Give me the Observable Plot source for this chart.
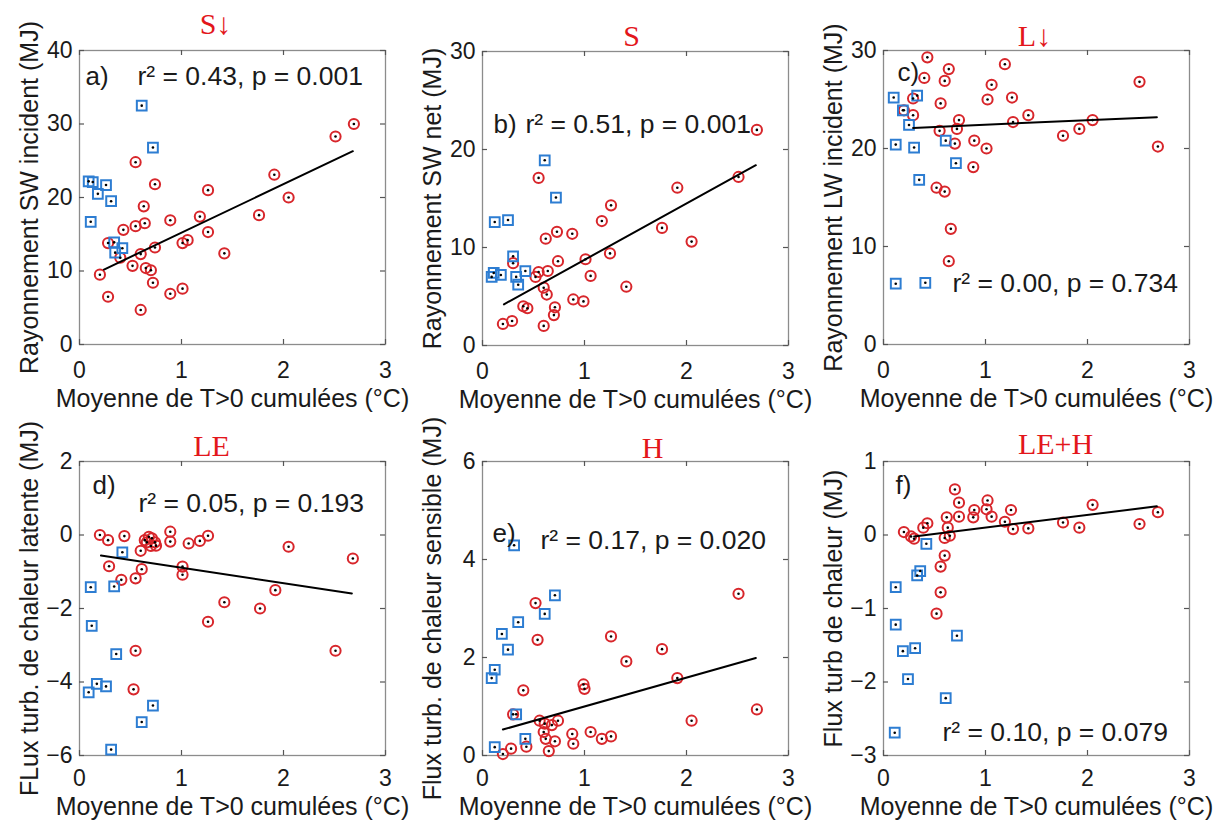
<!DOCTYPE html>
<html><head><meta charset="utf-8">
<script src="https://cdn.jsdelivr.net/npm/d3@7"></script>
<script src="https://cdn.jsdelivr.net/npm/@observablehq/plot@0.6"></script>
<style>
html,body{margin:0;padding:0;background:#fff;overflow:hidden;}
#root{position:relative;width:1213px;height:824px;overflow:hidden;}
.panel{position:absolute;}
</style></head><body><div id="root"></div>
<script>
// ---------- data ----------
const xTicks = [0, 1, 2, 3];
const xLabel = "Moyenne de T>0 cumulées (°C)";
const titles = ["S↓", "S", "L↓", "LE", "H", "LE+H"];
const letters = ["a)", "b)", "c)", "d)", "e)", "f)"];
const stats = ["r² = 0.43, p = 0.001", "r² = 0.51, p = 0.001", "r² = 0.00, p = 0.734",
               "r² = 0.05, p = 0.193", "r² = 0.17, p = 0.020", "r² = 0.10, p = 0.079"];
const yLabels = ["Rayonnement SW incident (MJ)", "Rayonnement SW net (MJ)", "Rayonnement LW incident (MJ)",
                 "FLux turb. de chaleur latente (MJ)", "Flux turb. de chaleur sensible (MJ)", "Flux turb de chaleur (MJ)"];
const yDomains = [[0, 40], [0, 30], [0, 30], [-6, 2], [0, 6], [-3, 1]];
const yTicks = [[0, 10, 20, 30, 40], [0, 10, 20, 30], [0, 10, 20, 30], [-6, -4, -2, 0, 2], [0, 2, 4, 6], [-3, -2, -1, 0, 1]];

const aRed = [[2.69,30.0],[2.51,28.3],[1.91,23.1],[2.05,20.0],[1.76,17.6],[1.26,21.0],[1.18,17.4],[1.26,15.3],[1.42,12.4],[1.01,13.8],[1.06,14.2],[0.89,16.9],[0.89,6.9],[1.01,7.6],[0.74,21.8],[0.55,24.8],[0.63,18.8],[0.64,16.5],[0.55,16.1],[0.43,15.6],[0.74,13.2],[0.60,12.3],[0.52,10.7],[0.65,10.4],[0.70,10.1],[0.72,8.4],[0.60,4.7],[0.28,13.8],[0.20,9.5],[0.28,6.5],[0.40,11.8]];
const aBlue = [[0.61,32.5],[0.72,26.8],[0.09,22.2],[0.13,22.1],[0.26,21.7],[0.18,20.5],[0.31,19.5],[0.11,16.7],[0.34,13.9],[0.35,12.5],[0.42,13.1]];
const aFit = [[0.24,10.2],[2.68,26.3]];

const bRed = [[2.69,22.0],[2.51,17.2],[1.91,16.1],[2.05,10.6],[1.76,12.0],[1.26,14.3],[1.17,12.7],[1.25,9.4],[1.41,6.0],[1.01,8.8],[1.06,7.1],[0.88,11.4],[0.89,4.7],[0.99,4.5],[0.73,11.6],[0.55,17.1],[0.62,10.9],[0.74,8.6],[0.64,7.6],[0.55,7.5],[0.52,7.0],[0.60,5.9],[0.63,5.2],[0.71,3.9],[0.70,3.1],[0.60,2.0],[0.40,4.0],[0.44,3.8],[0.30,8.4],[0.20,2.2],[0.29,2.5]];
const bBlue = [[0.61,18.9],[0.72,15.1],[0.12,12.6],[0.25,12.8],[0.30,9.1],[0.42,7.6],[0.11,7.4],[0.18,7.2],[0.09,7.0],[0.33,7.0],[0.35,6.2]];
const bFit = [[0.21,4.2],[2.68,18.4]];

const cRed = [[2.51,26.8],[2.69,20.2],[2.05,22.9],[1.92,22.0],[1.76,21.3],[1.42,23.4],[1.26,25.2],[1.27,22.7],[1.19,28.6],[1.06,26.5],[1.02,25.0],[1.01,20.0],[0.89,20.8],[0.88,18.1],[0.74,22.9],[0.72,22.0],[0.70,20.5],[0.64,28.1],[0.60,26.9],[0.56,24.6],[0.55,21.8],[0.43,29.3],[0.40,27.2],[0.52,16.0],[0.60,15.6],[0.66,11.8],[0.64,8.5],[0.29,25.1],[0.29,23.4],[0.20,23.9]];
const cBlue = [[0.10,25.2],[0.33,25.4],[0.19,23.9],[0.25,22.4],[0.12,20.4],[0.30,20.1],[0.61,20.8],[0.71,18.5],[0.35,16.8],[0.12,6.2],[0.41,6.3]];
const cFit = [[0.29,22.1],[2.68,23.2]];

const dRed = [[0.20,0.0],[0.28,-0.14],[0.44,-0.03],[0.29,-0.85],[0.41,-1.22],[0.55,-1.18],[0.60,-0.43],[0.61,-0.93],[0.64,-0.14],[0.68,-0.05],[0.71,-0.09],[0.74,-0.20],[0.75,-0.29],[0.89,0.09],[0.89,-0.18],[1.01,-0.86],[1.01,-1.08],[1.07,-0.23],[1.18,-0.16],[1.26,-0.02],[1.26,-2.36],[1.42,-1.83],[1.77,-2.0],[1.92,-1.5],[2.05,-0.32],[2.68,-0.64],[2.51,-3.15],[0.55,-3.15],[0.53,-4.2],[0.66,-0.2],[0.70,-0.3]];
const dBlue = [[0.11,-1.42],[0.12,-2.47],[0.34,-1.40],[0.42,-0.47],[0.36,-3.24],[0.09,-4.28],[0.17,-4.05],[0.26,-4.12],[0.72,-4.64],[0.61,-5.09],[0.31,-5.84]];
const dFit = [[0.21,-0.56],[2.67,-1.59]];

const eRed = [[2.51,3.30],[2.69,0.94],[2.05,0.71],[1.91,1.58],[1.76,2.17],[1.41,1.92],[1.26,2.43],[1.26,0.39],[1.17,0.34],[1.06,0.48],[0.99,1.45],[1.00,1.36],[0.88,0.44],[0.89,0.24],[0.74,0.71],[0.71,0.29],[0.65,0.09],[0.61,0.65],[0.60,0.48],[0.62,0.34],[0.56,0.71],[0.52,3.11],[0.54,2.36],[0.40,1.33],[0.43,0.18],[0.30,0.84],[0.28,0.14],[0.20,0.03],[0.68,0.62]];
const eBlue = [[0.31,4.29],[0.71,3.27],[0.61,2.89],[0.35,2.72],[0.19,2.48],[0.25,2.16],[0.12,1.75],[0.09,1.58],[0.33,0.84],[0.42,0.34],[0.12,0.17]];
const eFit = [[0.20,0.53],[2.68,1.99]];

const fRed = [[2.69,0.31],[2.51,0.15],[2.05,0.41],[1.92,0.10],[1.76,0.17],[1.42,0.09],[1.25,0.34],[1.27,0.08],[1.19,0.18],[1.06,0.25],[1.02,0.47],[1.01,0.35],[0.89,0.34],[0.88,0.24],[0.74,0.44],[0.74,0.25],[0.70,0.62],[0.62,0.24],[0.63,0.10],[0.65,-0.01],[0.60,-0.04],[0.60,-0.28],[0.56,-0.43],[0.56,-0.78],[0.52,-1.07],[0.43,0.16],[0.39,0.10],[0.20,0.04],[0.27,-0.02],[0.30,-0.05]];
const fBlue = [[0.42,-0.12],[0.36,-0.49],[0.33,-0.55],[0.12,-0.71],[0.12,-1.22],[0.19,-1.58],[0.31,-1.54],[0.24,-1.96],[0.72,-1.37],[0.61,-2.22],[0.11,-2.69]];
const fFit = [[0.30,-0.02],[2.68,0.39]];

const reds = [aRed, bRed, cRed, dRed, eRed, fRed];
const blues = [aBlue, bBlue, cBlue, dBlue, eBlue, fBlue];
const fits = [aFit, bFit, cFit, dFit, eFit, fFit];

// ---------- layout (positions / styles) ----------
const ML = 80, MT = 52, MR = 20, MB = 66, FW = 306, FH = 294, TK = 5;
const layout = [
  {fx: 79,  fy: 50,  tdx: -17, tdy: -17, lx: 6,  ly: 34, sx: 58, sy: 34,  xpad: 17, xlab: 45},
  {fx: 482, fy: 51,  tdx: -4,  tdy: -6,  lx: 11, ly: 81, sx: 43, sy: 81,  xpad: 17, xlab: 45},
  {fx: 883, fy: 50,  tdx: -2,  tdy: -5,  lx: 14, ly: 30, sx: 69, sy: 241, xpad: 17, xlab: 45},
  {fx: 79,  fy: 461, tdx: -21, tdy: -6,  lx: 13, ly: 32, sx: 59, sy: 50,  xpad: 14, xlab: 42},
  {fx: 482, fy: 461, tdx: 17,  tdy: -4,  lx: 10, ly: 80, sx: 58, sy: 87,  xpad: 14, xlab: 42},
  {fx: 883, fy: 461, tdx: 19,  tdy: -8,  lx: 12, ly: 32, sx: 59, sy: 279, xpad: 14, xlab: 42}
];
const RED = "#d8262b", BLUE = "#2d7dd2", GRID = "#8c8c8c", TICK = "#555";
const SANS = "'Liberation Sans', Arial, Helvetica, sans-serif";
const SERIF = "'Liberation Serif', 'Times New Roman', serif";
const fmt = d => (d < 0 ? "\u2212" + Math.abs(d) : String(d));

const root = document.getElementById("root");
const px = d => d[0], py = d => d[1];

for (let i = 0; i < 6; i++) {
  const L = layout[i];
  const yt = yTicks[i];
  const chart = Plot.plot({
    width: ML + FW + MR, height: MT + FH + MB,
    marginLeft: ML, marginTop: MT, marginRight: MR, marginBottom: MB,
    style: {fontFamily: SANS, color: "#1a1a1a", background: "transparent", overflow: "visible"},
    x: {domain: [0, 3]},
    y: {domain: yDomains[i]},
    marks: [
      Plot.frame({stroke: GRID, strokeWidth: 1.3}),
      // inward tick marks on all four sides
      Plot.ruleX(xTicks, {x: d => d, insetTop: FH - TK, stroke: TICK, strokeWidth: 1.2}),
      Plot.ruleX(xTicks, {x: d => d, insetBottom: FH - TK, stroke: TICK, strokeWidth: 1.2}),
      Plot.ruleY(yt, {y: d => d, insetRight: FW - TK, stroke: TICK, strokeWidth: 1.2}),
      Plot.ruleY(yt, {y: d => d, insetLeft: FW - TK, stroke: TICK, strokeWidth: 1.2}),
      Plot.axisX({anchor: "bottom", ticks: xTicks, tickSize: 0, tickPadding: L.xpad, tickFormat: fmt, fontSize: 23, label: null}),
      Plot.axisY({anchor: "left", ticks: yt, tickSize: 0, tickPadding: 7, tickFormat: fmt, fontSize: 23, label: null}),
      Plot.dot(reds[i], {x: px, y: py, r: 5.1, stroke: RED, strokeWidth: 2, fill: "none"}),
      Plot.dot(blues[i], {x: px, y: py, r: 5.5, symbol: "square", stroke: BLUE, strokeWidth: 2, fill: "none"}),
      Plot.dot(reds[i].concat(blues[i]), {x: px, y: py, r: 1.3, fill: "black"}),
      Plot.line(fits[i], {x: px, y: py, stroke: "black", strokeWidth: 2}),
      Plot.text([yLabels[i]], {text: d => d, frameAnchor: "left", textAnchor: "middle", rotate: -90, dx: -59, lineAnchor: "top", fontSize: 25, fontFamily: SANS, fill: "#1a1a1a"}),
      Plot.text([xLabel], {text: d => d, frameAnchor: "bottom", textAnchor: "middle", dy: L.xlab, lineAnchor: "top", fontSize: 25, fontFamily: SANS, fill: "#1a1a1a"}),
      Plot.text([titles[i]], {text: d => d, frameAnchor: "top", textAnchor: "middle", dx: L.tdx, dy: L.tdy, lineAnchor: "bottom", fontSize: 30, fontFamily: SERIF, fill: "#e3161b"}),
      Plot.text([letters[i]], {text: d => d, frameAnchor: "top-left", textAnchor: "start", dx: L.lx, dy: L.ly, lineAnchor: "bottom", fontSize: 26, fontFamily: SANS, fill: "#1a1a1a"}),
      Plot.text([stats[i]], {text: d => d, frameAnchor: "top-left", textAnchor: "start", dx: L.sx, dy: L.sy, lineAnchor: "bottom", fontSize: 26.5, fontFamily: SANS, fill: "#1a1a1a"})
    ]
  });
  const wrap = document.createElement("div");
  wrap.className = "panel";
  wrap.style.left = (L.fx - ML) + "px";
  wrap.style.top = (L.fy - MT) + "px";
  wrap.appendChild(chart);
  root.appendChild(wrap);
}
</script></body></html>
